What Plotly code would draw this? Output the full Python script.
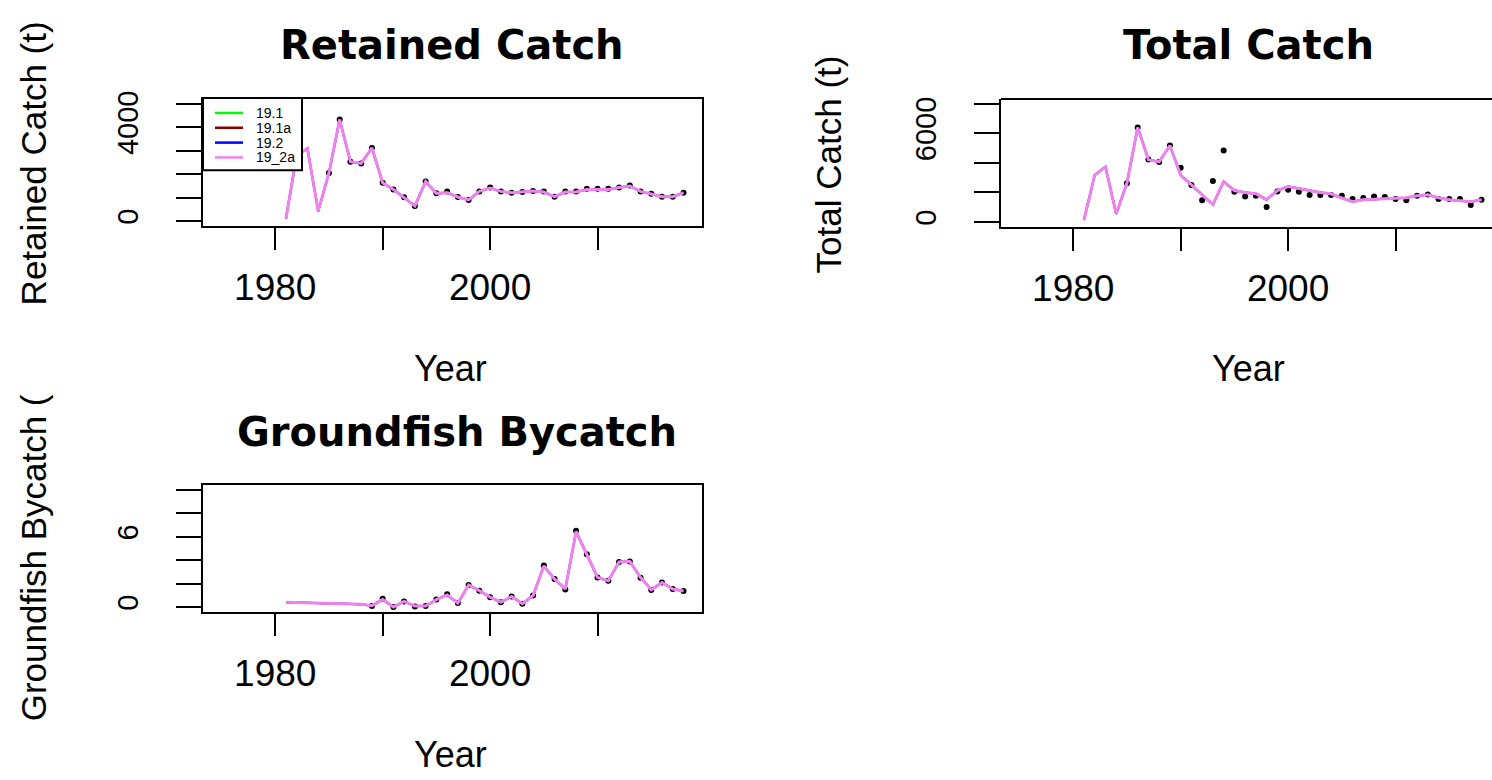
import plotly.graph_objects as go

W, H = 1492, 780

years = list(range(1981, 2019))

# model fits (19.1, 19.1a, 19.2 lie under 19_2a in the picture)
retained_fit = [112, 2800, 3090, 420, 2050, 4326, 2528, 2458, 3118, 1629, 1348, 1011, 646,
                1685, 1180, 1208, 1025, 899, 1264, 1404, 1264, 1208, 1236, 1278, 1236, 1039,
                1236, 1236, 1348, 1348, 1348, 1433, 1489, 1264, 1166, 1039, 1039, 1208]
total_fit = [133, 3178, 3733, 555, 2622, 6400, 4222, 4067, 5178, 3178, 2511, 1844, 1178,
             2733, 2133, 2000, 1911, 1511, 2133, 2400, 2289, 2133, 2000, 1911, 1622, 1378,
             1511, 1556, 1600, 1600, 1644, 1778, 1844, 1644, 1511, 1444, 1378, 1511]
bycatch_fit = [0.42, 0.40, 0.38, 0.36, 0.33, 0.30, 0.27, 0.24, 0.12, 0.64, 0.0, 0.48, 0.08,
               0.08, 0.64, 1.04, 0.34, 1.88, 1.40, 0.84, 0.42, 0.90, 0.28, 0.98, 3.50, 2.38,
               1.54, 6.44, 4.48, 2.52, 2.24, 3.84, 3.89, 2.52, 1.48, 2.10, 1.54, 1.37]

# observed data
retained_obs_years = list(range(1985, 2019))
retained_obs = [2050, 4326, 2528, 2458, 3118, 1629, 1348, 1011, 646, 1685, 1180, 1260, 1025,
                899, 1264, 1430, 1264, 1208, 1236, 1278, 1264, 1039, 1264, 1264, 1380, 1380,
                1380, 1433, 1520, 1264, 1166, 1039, 1039, 1208]
total_obs_years = list(range(1985, 2019))
total_obs = [2622, 6400, 4222, 4067, 5178, 3667, 2511, 1467, 2778, 4844, 2044, 1733, 1778,
             1022, 2067, 2178, 2044, 1822, 1822, 1822, 1778, 1556, 1622, 1733, 1689, 1556,
             1467, 1778, 1867, 1556, 1556, 1556, 1156, 1511]
bycatch_obs_years = list(range(1989, 2019))
bycatch_obs = [0.08, 0.70, 0.0, 0.48, 0.05, 0.08, 0.64, 1.10, 0.34, 1.88, 1.40, 0.84, 0.42,
               0.90, 0.28, 0.98, 3.55, 2.40, 1.50, 6.50, 4.50, 2.52, 2.24, 3.84, 3.89, 2.50,
               1.45, 2.10, 1.54, 1.37]

models = ["19.1", "19.1a", "19.2", "19_2a"]
model_colors = ["#00FF00", "#8B0000", "#0000FF", "#EE82EE"]

FONT = "Liberation Sans, Arial, sans-serif"


def px(x):
    return x / W


def py(y):
    return 1 - y / H


fig = go.Figure()

panels = [
    ("x", "y", years, retained_fit, retained_obs_years, retained_obs),
    ("x2", "y2", years, total_fit, total_obs_years, total_obs),
    ("x3", "y3", years, bycatch_fit, bycatch_obs_years, bycatch_obs),
]

for xa, ya, yrs, fit, oyrs, obs in panels:
    fig.add_trace(go.Scatter(x=oyrs, y=obs, mode="markers", xaxis=xa, yaxis=ya,
                             marker=dict(color="black", size=6, symbol="circle"),
                             showlegend=False))
    for name, col in zip(models, model_colors):
        fig.add_trace(go.Scatter(x=yrs, y=fit, mode="lines", name=name, xaxis=xa, yaxis=ya,
                                 line=dict(color=col, width=3 if name == "19_2a" else 2),
                                 showlegend=False))

xr = [1973.28, 2019.72]
xr2 = [1973.28, 1973.28 + (W - 1001) * (46.44 / 499)]


def xaxis(dom, rng, anchor, mirror=True):
    return dict(domain=dom, range=rng, anchor=anchor,
                tickvals=[1980, 1990, 2000, 2010], ticktext=["1980", "", "2000", ""],
                ticks="outside", ticklen=22, tickwidth=2, tickcolor="black",
                tickfont=dict(family=FONT, size=37, color="black"),
                ticklabelstandoff=6,
                showgrid=False, zeroline=False, showline=True, linewidth=2,
                linecolor="black", mirror=mirror)


def yaxis(dom, rng, anchor, tvals, ttext, mirror=True):
    return dict(domain=dom, range=rng, anchor=anchor,
                tickvals=tvals, ticktext=ttext, tickangle=-90,
                ticks="outside", ticklen=25, tickwidth=2, tickcolor="black",
                tickfont=dict(family=FONT, size=29, color="black"),
                ticklabelstandoff=26,
                showgrid=False, zeroline=False, showline=True, linewidth=2,
                linecolor="black", mirror=mirror)


fig.update_layout(
    width=W, height=H,
    margin=dict(l=0, r=0, t=0, b=0),
    paper_bgcolor="white", plot_bgcolor="white",
    font=dict(family=FONT, color="black"),
    showlegend=False,
    xaxis=xaxis([px(203), px(702)], xr, "y"),
    yaxis=yaxis([py(220), py(92)], [-200, 5200], "x",
                [0, 1000, 2000, 3000, 4000, 5000], ["0", "", "", "", "4000", ""]),
    xaxis2=xaxis([px(1001), 1.0], xr2, "y2", mirror=False),
    yaxis2=yaxis([py(221), py(92)], [-320, 8320], "x2",
                 [0, 2000, 4000, 6000, 8000], ["0", "", "", "6000", ""], mirror=False),
    xaxis3=xaxis([px(203), px(702)], xr, "y3"),
    yaxis3=yaxis([py(610), py(482)], [-0.4, 10.4], "x3",
                 [0, 2, 4, 6, 8, 10], ["0", "", "", "6", "", ""]),
)

# top border of the right panel runs off the page edge
fig.add_shape(type="line", xref="x2 domain", yref="y2 domain", x0=0, x1=1.05, y0=1, y1=1,
              line=dict(color="black", width=2))

# legend box drawn in the corner of the first panel, like R's legend()
fig.add_shape(type="rect", xref="paper", yref="paper",
              x0=px(203), x1=px(302), y0=py(164), y1=py(91),
              line=dict(color="black", width=2), fillcolor="white", layer="above")
for i, (name, col) in enumerate(zip(models, model_colors)):
    ry = 106 + i * 15
    fig.add_shape(type="line", xref="paper", yref="paper",
                  x0=px(215), x1=px(243), y0=py(ry), y1=py(ry),
                  line=dict(color=col, width=2.5), layer="above")
    fig.add_annotation(text=name, x=px(255), y=py(ry), xref="paper", yref="paper",
                       showarrow=False, xanchor="left", yanchor="middle",
                       height=16, borderpad=0,
                       font=dict(family=FONT, size=14, color="black"))

titles = [
    ("Retained Catch", 452, 37),
    ("Total Catch", 1248, 37),
    ("Groundfish Bycatch", 457, 428),
]
for text, x, y in titles:
    fig.add_annotation(text="<b>%s</b>" % text, x=px(x), y=py(y), xref="paper", yref="paper",
                       showarrow=False, xanchor="center", yanchor="middle",
                       font=dict(family="DejaVu Sans", size=40, color="black"))

for x, y in [(451, 364), (1248, 364), (451, 754)]:
    fig.add_annotation(text="Year", x=px(x), y=py(y), xref="paper", yref="paper",
                       showarrow=False, xanchor="center", yanchor="middle",
                       font=dict(family=FONT, size=36, color="black"))

ylabels = [
    ("Retained Catch (t)", 33, 157),
    ("Total Catch (t)", 828, 158),
    ("Groundfish Bycatch (", 33, 556),
]
for text, x, y in ylabels:
    fig.add_annotation(text=text, x=px(x), y=py(y), xref="paper", yref="paper",
                       showarrow=False, xanchor="center", yanchor="middle", textangle=-90,
                       font=dict(family=FONT, size=35, color="black"))

fig.write_html("out.html", config={"displayModeBar": False},
               post_script="document.body.style.margin='0';")
